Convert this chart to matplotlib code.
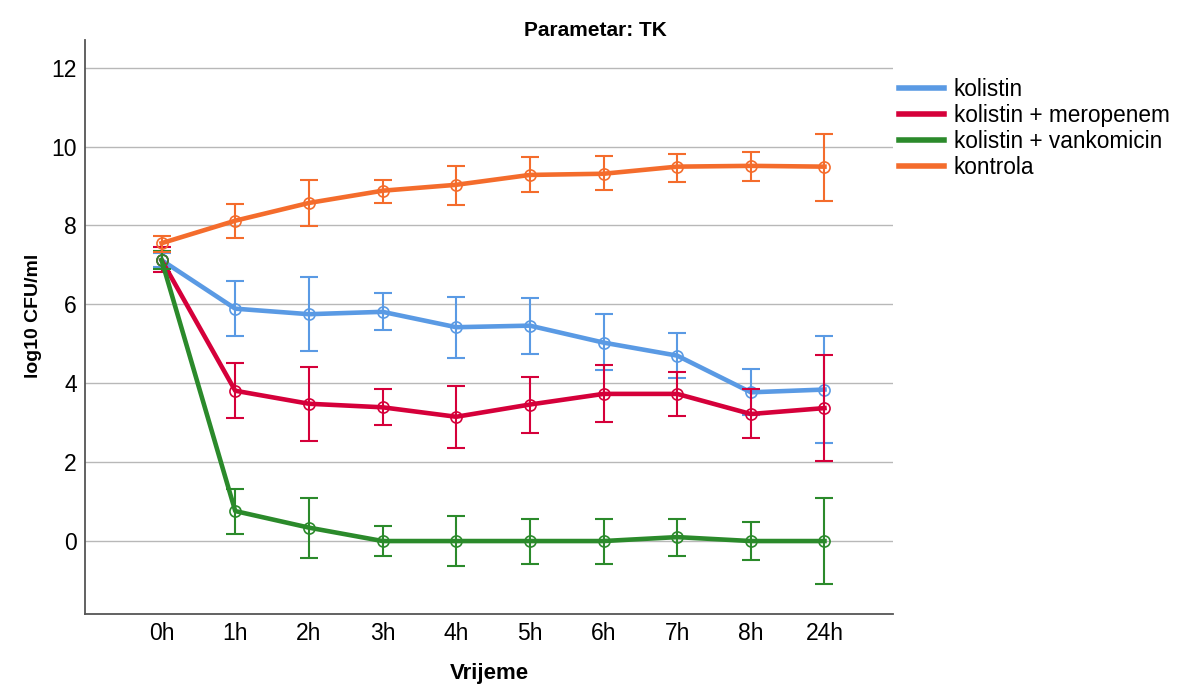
import numpy as np
import matplotlib
matplotlib.use("Agg")
import matplotlib.pyplot as plt

plt.rcParams['font.family'] = ['Liberation Sans', 'DejaVu Sans']

times = ['0h', '1h', '2h', '3h', '4h', '5h', '6h', '7h', '8h', '24h']

# kolistin
kol_mean = [7.12, 5.89, 5.75, 5.81, 5.42, 5.46, 5.03, 4.70, 3.77, 3.84]
kol_low = [6.95, 5.20, 4.82, 5.36, 4.63, 4.74, 4.34, 4.13, 3.20, 2.49]
kol_high = [7.30, 6.60, 6.69, 6.28, 6.19, 6.16, 5.76, 5.28, 4.35, 5.19]

# kolistin + meropenem
mer_mean = [7.12, 3.81, 3.48, 3.39, 3.15, 3.46, 3.73, 3.73, 3.22, 3.37]
mer_low = [6.81, 3.11, 2.54, 2.94, 2.37, 2.75, 3.03, 3.16, 2.61, 2.03]
mer_high = [7.45, 4.51, 4.41, 3.85, 3.93, 4.16, 4.45, 4.29, 3.85, 4.72]

# kolistin + vankomicin
van_mean = [7.12, 0.76, 0.34, 0.0, 0.0, 0.0, 0.0, 0.10, 0.0, 0.0]
van_low = [6.90, 0.19, -0.43, -0.38, -0.64, -0.58, -0.58, -0.37, -0.48, -1.10]
van_high = [7.35, 1.33, 1.09, 0.37, 0.63, 0.57, 0.57, 0.55, 0.48, 1.09]

# kontrola
kon_mean = [7.55, 8.12, 8.57, 8.88, 9.03, 9.28, 9.31, 9.49, 9.51, 9.49]
kon_low = [7.33, 7.69, 7.99, 8.57, 8.52, 8.85, 8.89, 9.11, 9.13, 8.62]
kon_high = [7.74, 8.55, 9.16, 9.16, 9.51, 9.74, 9.77, 9.82, 9.87, 10.32]

series = [
    ('kolistin', kol_mean, kol_low, kol_high, '#5a9ae4'),
    ('kolistin + meropenem', mer_mean, mer_low, mer_high, '#d5003a'),
    ('kolistin + vankomicin', van_mean, van_low, van_high, '#2b8a2b'),
    ('kontrola', kon_mean, kon_low, kon_high, '#f46c2c'),
]

fig = plt.figure(figsize=(11.79, 6.85), dpi=100)
ax = fig.add_axes([0.0721, 0.1036, 0.6853, 0.838])

x = np.arange(len(times))
handles = []
for name, m, lo, hi, c in series:
    m = np.array(m)
    yerr = [m - np.array(lo), np.array(hi) - m]
    ax.errorbar(x, m, yerr=yerr, fmt='none', ecolor=c, elinewidth=1.5,
                capsize=6.5, capthick=1.5)
    ax.plot(x, m, color=c, linewidth=3.3, marker='o', markersize=8,
            markerfacecolor='none', markeredgecolor=c, markeredgewidth=1.2)
    handles.append(plt.Line2D([], [], color=c, linewidth=4))

ax.set_xlim(-1.04, 9.93)
ax.set_ylim(-1.85, 12.7)
ax.set_xticks(x)
ax.set_xticklabels(times)
ax.set_yticks([0, 2, 4, 6, 8, 10, 12])
ax.tick_params(axis='both', length=0, labelsize=16.5, pad=6)
ax.yaxis.grid(True, color='#b8b8b8', linewidth=1)
ax.set_axisbelow(True)
for s in ['top', 'right']:
    ax.spines[s].set_visible(False)
for s in ['left', 'bottom']:
    ax.spines[s].set_color('#555555')
    ax.spines[s].set_linewidth(1.3)

ax.set_ylabel('log10 CFU/ml', fontsize=14, fontweight='bold')
ax.yaxis.set_label_coords(-0.053, 0.52)
ax.set_xlabel('Vrijeme', fontsize=16, fontweight='bold', labelpad=13)
fig.suptitle('Parametar: TK', x=0.505, y=0.97, fontsize=15, fontweight='bold')

fig.legend(handles, [s[0] for s in series], loc='upper left',
           bbox_to_anchor=(0.755, 0.9), frameon=False, fontsize=16.3,
           handlelength=2.0, handletextpad=0.4, labelspacing=0.14,
           borderaxespad=0)

fig.savefig('out.png', dpi=100)
